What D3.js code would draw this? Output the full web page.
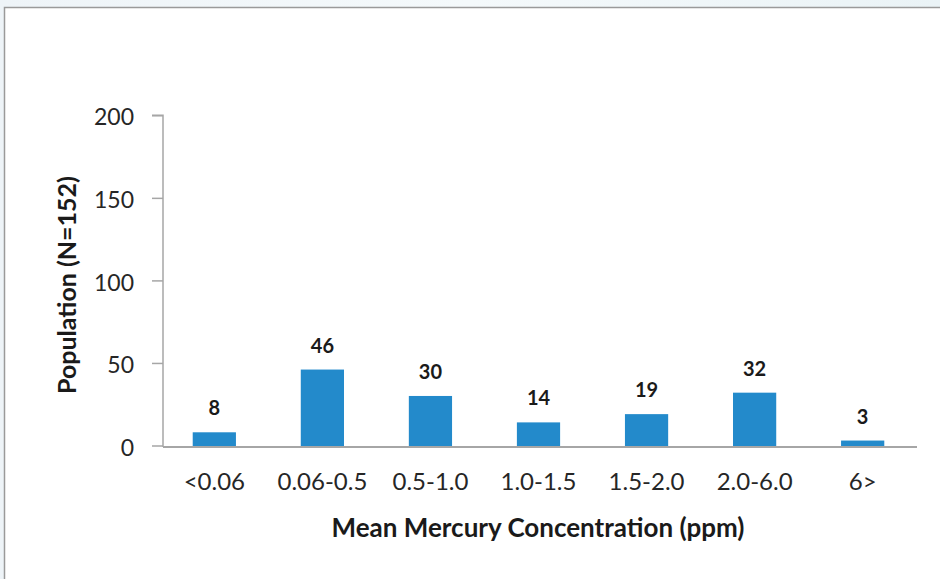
<!DOCTYPE html>
<html>
<head>
<meta charset="utf-8">
<script src="https://cdn.jsdelivr.net/npm/d3@7"></script>
<style>
  html, body { margin: 0; padding: 0; background: #ffffff; }
  svg { display: block; }
</style>
</head>
<body>
<svg id="chart" width="940" height="579"></svg>
<script>
// Mercury concentration bins and population counts
const categories = ["<0.06", "0.06-0.5", "0.5-1.0", "1.0-1.5", "1.5-2.0", "2.0-6.0", "6>"];
const counts = [8, 46, 30, 14, 19, 32, 3];
const yTicks = [0, 50, 100, 150, 200];

const W = 940, H = 579;
const plot = { left: 163, right: 914, top: 115.3, bottom: 445.5 };
const svg = d3.select("#chart");
const font = "Lato, 'Open Sans', sans-serif";

// Page backdrop and framed panel
const bg = svg.append("defs").append("linearGradient").attr("id", "bgGrad")
  .attr("x1", 0).attr("x2", 1).attr("y1", 0).attr("y2", 0);
bg.append("stop").attr("offset", "0%").attr("stop-color", "#eef4f8");
bg.append("stop").attr("offset", "50%").attr("stop-color", "#f4f9fb");
bg.append("stop").attr("offset", "100%").attr("stop-color", "#eaf3f6");
svg.append("rect").attr("width", W).attr("height", H).attr("fill", "url(#bgGrad)");
svg.append("rect").attr("x", 4.5).attr("y", 7.5).attr("width", W).attr("height", H)
  .attr("fill", "#ffffff").attr("stroke", "#9a9a9a").attr("stroke-width", 1.5);

const x = d3.scaleBand().domain(categories)
  .range([plot.left, plot.right]).paddingInner(0.6).paddingOuter(0.275);
const y = d3.scaleLinear().domain([0, 200]).range([plot.bottom, plot.top]);

// Y axis
const yAxis = svg.append("g").attr("transform", `translate(${plot.left},0)`)
  .call(d3.axisLeft(y).tickValues(yTicks).tickSize(11).tickPadding(18));
yAxis.select(".domain").attr("stroke", "#a6a6a6").attr("stroke-width", 1.5)
  .attr("d", `M-11,${y(200)}H0V${y(0) + 1.5}`);
yAxis.selectAll(".tick line").attr("stroke", "#a6a6a6").attr("stroke-width", 1.5);
yAxis.selectAll(".tick text").attr("font-family", font).attr("font-size", 23)
  .attr("fill", "#262626").attr("dy", "0.42em");

// X axis
const xAxis = svg.append("g").attr("transform", `translate(0,${y(0) + 1.5})`)
  .call(d3.axisBottom(x).tickSize(0).tickPadding(26));
xAxis.select(".domain").attr("stroke", "#a6a6a6").attr("stroke-width", 2)
  .attr("d", `M${plot.left},0H${plot.right + 3}`);
xAxis.selectAll(".tick text").attr("font-family", font).attr("font-size", 24)
  .attr("fill", "#262626");

// Bars
svg.append("g").selectAll("rect").data(counts).join("rect")
  .attr("x", (d, i) => x(categories[i]))
  .attr("width", x.bandwidth())
  .attr("y", d => y(d))
  .attr("height", d => y(0) + 0.5 - y(d))
  .attr("fill", "#238acb");

// Value labels
svg.append("g").selectAll("text").data(counts).join("text")
  .attr("x", (d, i) => x(categories[i]) + x.bandwidth() / 2)
  .attr("y", d => y(d) - 17)
  .attr("text-anchor", "middle")
  .attr("font-family", font).attr("font-size", 20).attr("font-weight", "bold")
  .attr("fill", "#1a1a1a")
  .text(d => d);

// Axis titles
svg.append("text")
  .attr("x", 538).attr("y", 537)
  .attr("text-anchor", "middle")
  .attr("font-family", font).attr("font-size", 26).attr("font-weight", "bold")
  .attr("fill", "#1a1a1a")
  .text("Mean Mercury Concentration (ppm)");

svg.append("text")
  .attr("transform", "translate(76,285) rotate(-90)")
  .attr("text-anchor", "middle")
  .attr("font-family", font).attr("font-size", 25).attr("font-weight", "bold")
  .attr("fill", "#1a1a1a")
  .text("Population (N=152)");
</script>
</body>
</html>
